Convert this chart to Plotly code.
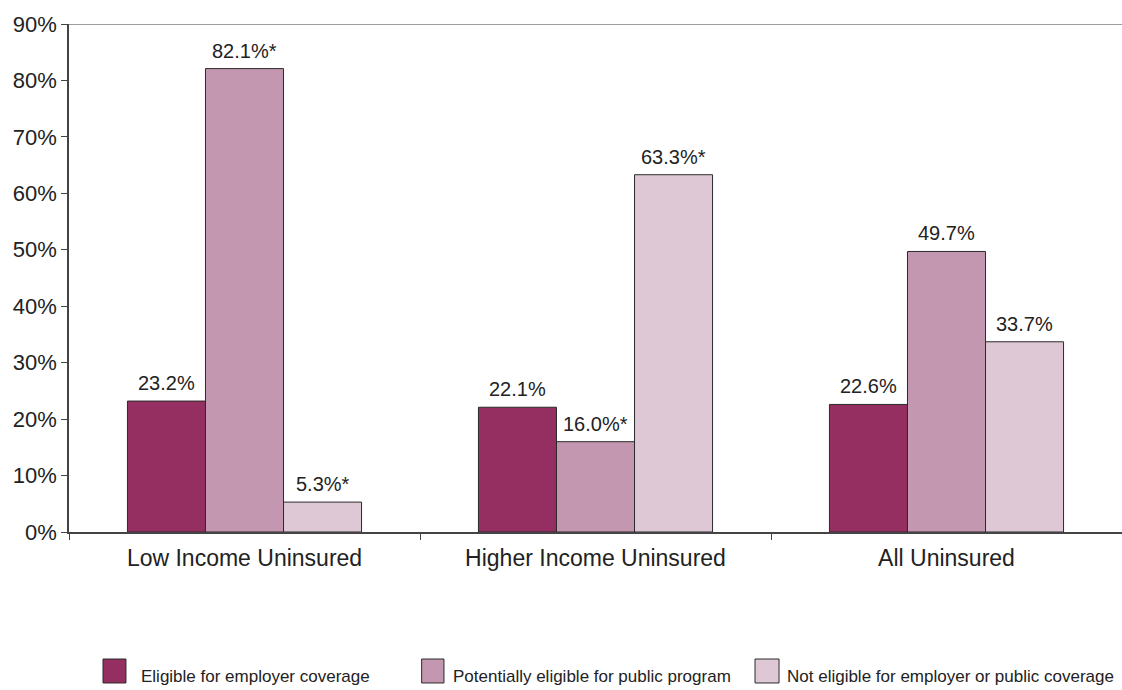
import plotly.graph_objects as go

categories = ["Low Income Uninsured", "Higher Income Uninsured", "All Uninsured"]
series_names = [
    "Eligible for employer coverage",
    "Potentially eligible for public program",
    "Not eligible for employer or public coverage",
]
employer = [23.2, 22.1, 22.6]
public_program = [82.1, 16.0, 49.7]
not_eligible = [5.3, 63.3, 33.7]
# "*" marks a statistically significant difference
significant_employer = [False, False, False]
significant_public = [True, True, False]
significant_not_eligible = [True, True, False]
y_ticks = [0, 10, 20, 30, 40, 50, 60, 70, 80, 90]

series_values = [employer, public_program, not_eligible]
series_sig = [significant_employer, significant_public, significant_not_eligible]
colors = ["#952F62", "#C497B0", "#DFC8D5"]

FONT = "Liberation Sans, Arial, sans-serif"
TEXT = "#222222"
BARGAP = 0.333
n_series = len(series_values)
bar_w = (1 - BARGAP) / n_series  # bar width in category units

fig = go.Figure()
for name, vals, col in zip(series_names, series_values, colors):
    fig.add_trace(go.Bar(
        name=name,
        x=categories,
        y=vals,
        marker=dict(color=col, line=dict(color="#2b2b2b", width=1)),
        showlegend=False,
    ))

# value labels above each bar
annotations = []
for i, (vals, sig) in enumerate(zip(series_values, series_sig)):
    offset = (i - (n_series - 1) / 2) * bar_w
    for j, (v, s) in enumerate(zip(vals, sig)):
        annotations.append(dict(
            x=j + offset, y=v, xref="x", yref="y",
            text=f"{v:.1f}%" + ("*" if s else ""),
            showarrow=False, yanchor="bottom", xanchor="center", yshift=5,
            font=dict(family=FONT, size=20, color=TEXT),
        ))

# legend drawn below the chart: swatch box + label
legend_swatch_x = [(0.0323, 0.0541), (0.3349, 0.3561), (0.6515, 0.6743)]
legend_text_x = [0.0665, 0.3632, 0.680]
shapes = []
for (x0, x1), tx, name, col in zip(legend_swatch_x, legend_text_x, series_names, colors):
    shapes.append(dict(type="rect", xref="paper", yref="paper",
                       x0=x0, x1=x1, y0=-0.2972, y1=-0.25,
                       fillcolor=col, line=dict(color="#2b2b2b", width=1)))
    annotations.append(dict(x=tx, y=-0.2854, xref="paper", yref="paper",
                            text=name, showarrow=False, xanchor="left", yanchor="middle",
                            font=dict(family=FONT, size=17, color=TEXT)))

# top border of the plotting area at 90%
shapes.append(dict(type="line", xref="paper", yref="y", x0=0, x1=1, y0=90, y1=90,
                   line=dict(color="#9a9ea2", width=2)))

fig.update_layout(
    width=1122,
    height=690,
    margin=dict(l=69, r=0, t=24, b=158),
    paper_bgcolor="white",
    plot_bgcolor="white",
    barmode="group",
    bargap=BARGAP,
    bargroupgap=0,
    font=dict(family=FONT, color=TEXT),
    showlegend=False,
    annotations=annotations,
    shapes=shapes,
)

fig.update_yaxes(
    range=[0, 90],
    tickvals=y_ticks,
    ticktext=[f"{t}%" for t in y_ticks],
    ticks="outside",
    ticklen=6,
    tickcolor="#444",
    showline=True,
    linecolor="#444",
    linewidth=1.5,
    showgrid=False,
    zeroline=False,
    tickfont=dict(family=FONT, size=22, color=TEXT),
)
fig.update_xaxes(
    tickson="boundaries",
    ticks="outside",
    ticklen=6,
    tickcolor="#444",
    showline=True,
    linecolor="#444",
    linewidth=1.5,
    showgrid=False,
    ticklabelstandoff=5,
    tickfont=dict(family=FONT, size=23, color=TEXT),
)

fig.write_html("out.html")
